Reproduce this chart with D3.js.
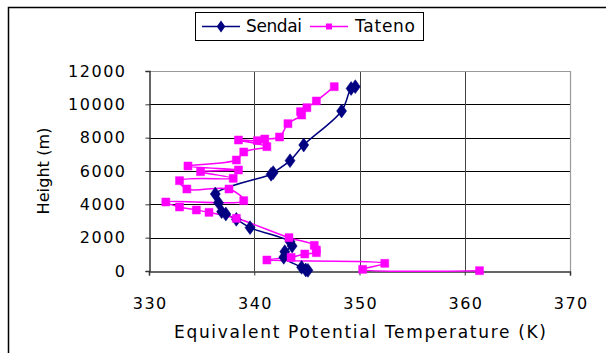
<!DOCTYPE html>
<html>
<head>
<meta charset="utf-8">
<script src="https://cdn.jsdelivr.net/npm/d3@7"></script>
<style>
  body { margin: 0; background: #fff; }
  text { font-family: "DejaVu Sans", sans-serif; fill: #000; }
</style>
</head>
<body>
<div id="chart"></div>
<script>
// Data: equivalent potential temperature (K) vs height (m)
var sendaiTemp   = [345.1, 344.9, 344.5, 342.8, 342.9, 343.6, 343.4, 339.6, 338.3, 337.3, 336.9, 336.6, 336.3, 341.6, 341.8, 343.4, 344.7, 348.3, 349.2, 349.6];
var sendaiHeight = [40,    60,    220,   820,   1160,  1500,  1760,  2600,  3100,  3420,  3560,  4100,  4620,  5800,  5900,  6620,  7560,  9600,  10950, 11060];

var tatenoTemp   = [361.4, 350.3, 352.4, 341.2, 343.5, 344.8, 345.9, 345.9, 345.7, 343.3, 338.3, 335.7, 334.5, 332.9, 331.6, 339.0, 337.6, 333.6, 332.9, 338.0, 334.9, 338.5, 333.7, 338.3, 339.0, 341.2, 338.5, 340.3, 341.0, 342.4, 343.2, 344.5, 344.4, 345.0, 345.9, 347.6];
var tatenoHeight = [20,    100,   460,   660,   820,   1020,  1100,  1260,  1540,  2000,  3160,  3520,  3660,  3840,  4140,  4220,  4920,  4920,  5420,  5560,  5960,  6060,  6300,  6660,  7140,  7460,  7860,  7820,  7920,  8040,  8840,  9360,  9560,  9800,  10200, 11060];

var xTicks = [330, 340, 350, 360, 370];
var yTicks = [0, 2000, 4000, 6000, 8000, 10000, 12000];

var W = 606, H = 353;
var plot = {left: 149, right: 570, top: 71, bottom: 271};

var svg = d3.select("#chart").append("svg")
    .attr("width", W)
    .attr("height", H);

// outer chart frame (runs off the right/bottom edge like the original)
svg.append("rect")
    .attr("x", 8.5).attr("y", 7.5)
    .attr("width", W).attr("height", H)
    .attr("fill", "#fff")
    .attr("stroke", "#000")
    .attr("stroke-width", 1.5);

var x = d3.scaleLinear().domain([330, 370]).range([plot.left, plot.right]);
var y = d3.scaleLinear().domain([0, 12000]).range([plot.bottom, plot.top]);

// gridlines
svg.append("g").selectAll("line")
    .data(yTicks.filter(function(d) { return d > 0 && d < 12000; }))
    .enter().append("line")
    .attr("x1", plot.left).attr("x2", plot.right)
    .attr("y1", function(d) { return Math.round(y(d)) + 0.5; })
    .attr("y2", function(d) { return Math.round(y(d)) + 0.5; })
    .attr("stroke", "#000");

svg.append("g").selectAll("line")
    .data(xTicks.filter(function(d) { return d > 330 && d < 370; }))
    .enter().append("line")
    .attr("x1", function(d) { return Math.round(x(d)) + 0.5; })
    .attr("x2", function(d) { return Math.round(x(d)) + 0.5; })
    .attr("y1", plot.top).attr("y2", plot.bottom)
    .attr("stroke", "#444");

// plot frame: top/right gray
svg.append("path")
    .attr("d", "M" + plot.left + "," + (plot.top + 0.5) + "H" + (plot.right + 0.5) + "V" + plot.bottom)
    .attr("fill", "none")
    .attr("stroke", "#999")
    .attr("stroke-width", 1.2);

// axes
var xAxis = svg.append("g")
    .attr("transform", "translate(0," + (plot.bottom + 0.5) + ")")
    .call(d3.axisBottom(x).tickValues(xTicks).tickSize(4).tickPadding(22).tickFormat(d3.format("d")));
xAxis.select(".domain").attr("stroke", "#333").attr("stroke-width", 1.5);
xAxis.selectAll(".tick line").attr("stroke", "#333");
xAxis.selectAll("text").style("font-size", "16px").style("letter-spacing", "1.5px")
    .attr("dx", "0.75px");

var yAxis = svg.append("g")
    .attr("transform", "translate(" + (plot.left + 0.5) + ",0)")
    .call(d3.axisLeft(y).tickValues(yTicks).tickSize(4).tickPadding(19).tickFormat(d3.format("d")));
yAxis.select(".domain").attr("stroke", "#333").attr("stroke-width", 1.5);
yAxis.selectAll(".tick line").attr("stroke", "#333");
yAxis.selectAll("text").style("font-size", "16px").style("letter-spacing", "1.5px");

// axis titles
svg.append("text")
    .attr("x", 360).attr("y", 332)
    .attr("dy", "0.35em")
    .attr("textLength", 372)
    .attr("lengthAdjust", "spacing")
    .style("text-anchor", "middle")
    .style("font-size", "17px")
    .text("Equivalent Potential Temperature (K)");

svg.append("text")
    .attr("transform", "translate(43,171) rotate(-90)")
    .attr("dy", "0.35em")
    .attr("textLength", 87)
    .attr("lengthAdjust", "spacing")
    .style("text-anchor", "middle")
    .style("font-size", "16px")
    .text("Height (m)");

// series
var series = [
    {name: "Sendai", temp: sendaiTemp, height: sendaiHeight, color: "#000080", shape: d3.symbolDiamond, size: 55},
    {name: "Tateno", temp: tatenoTemp, height: tatenoHeight, color: "#ff00ff", shape: d3.symbolSquare, size: 64}
];

var line = d3.line()
    .x(function(d) { return x(d[0]); })
    .y(function(d) { return y(d[1]); })
    .curve(d3.curveCatmullRom.alpha(0.5));

series.forEach(function(s) {
    var pts = s.temp.map(function(t, i) { return [t, s.height[i]]; });
    svg.append("path")
        .datum(pts)
        .attr("d", line)
        .attr("fill", "none")
        .attr("stroke", s.color)
        .attr("stroke-width", 1.5);
});

series.forEach(function(s) {
    svg.append("g").selectAll("path")
        .data(s.temp.map(function(t, i) { return [t, s.height[i]]; }))
        .enter().append("path")
        .attr("d", d3.symbol().type(s.shape).size(s.size))
        .attr("transform", function(d) {
            var sx = s.shape === d3.symbolDiamond ? "scale(1.25,1)" : "";
            return "translate(" + x(d[0]) + "," + y(d[1]) + ")" + sx;
        })
        .attr("fill", s.color)
        .attr("stroke", s.color)
        .attr("stroke-width", 0.5);
});

// legend
var legend = svg.append("g");
legend.append("rect")
    .attr("x", 195.5).attr("y", 12.5)
    .attr("width", 228).attr("height", 28)
    .attr("fill", "#fff")
    .attr("stroke", "#000");

var legendItems = [
    {s: series[0], x0: 202, x1: 240, tx: 246, tw: 56},
    {s: series[1], x0: 310, x1: 348, tx: 355, tw: 60}
];
legendItems.forEach(function(it) {
    legend.append("line")
        .attr("x1", it.x0).attr("x2", it.x1)
        .attr("y1", 26.5).attr("y2", 26.5)
        .attr("stroke", it.s.color)
        .attr("stroke-width", 1.5);
    legend.append("path")
        .attr("d", d3.symbol().type(it.s.shape).size(it.s.shape === d3.symbolDiamond ? 40 : 36))
        .attr("transform", "translate(" + ((it.x0 + it.x1) / 2) + ",26.5)" + (it.s.shape === d3.symbolDiamond ? "scale(1.25,1)" : ""))
        .attr("fill", it.s.color);
    legend.append("text")
        .attr("x", it.tx).attr("y", 26.5)
        .attr("dy", "0.35em")
        .attr("textLength", it.tw)
        .attr("lengthAdjust", "spacing")
        .style("font-size", "17px")
        .text(it.s.name);
});
</script>
</body>
</html>
